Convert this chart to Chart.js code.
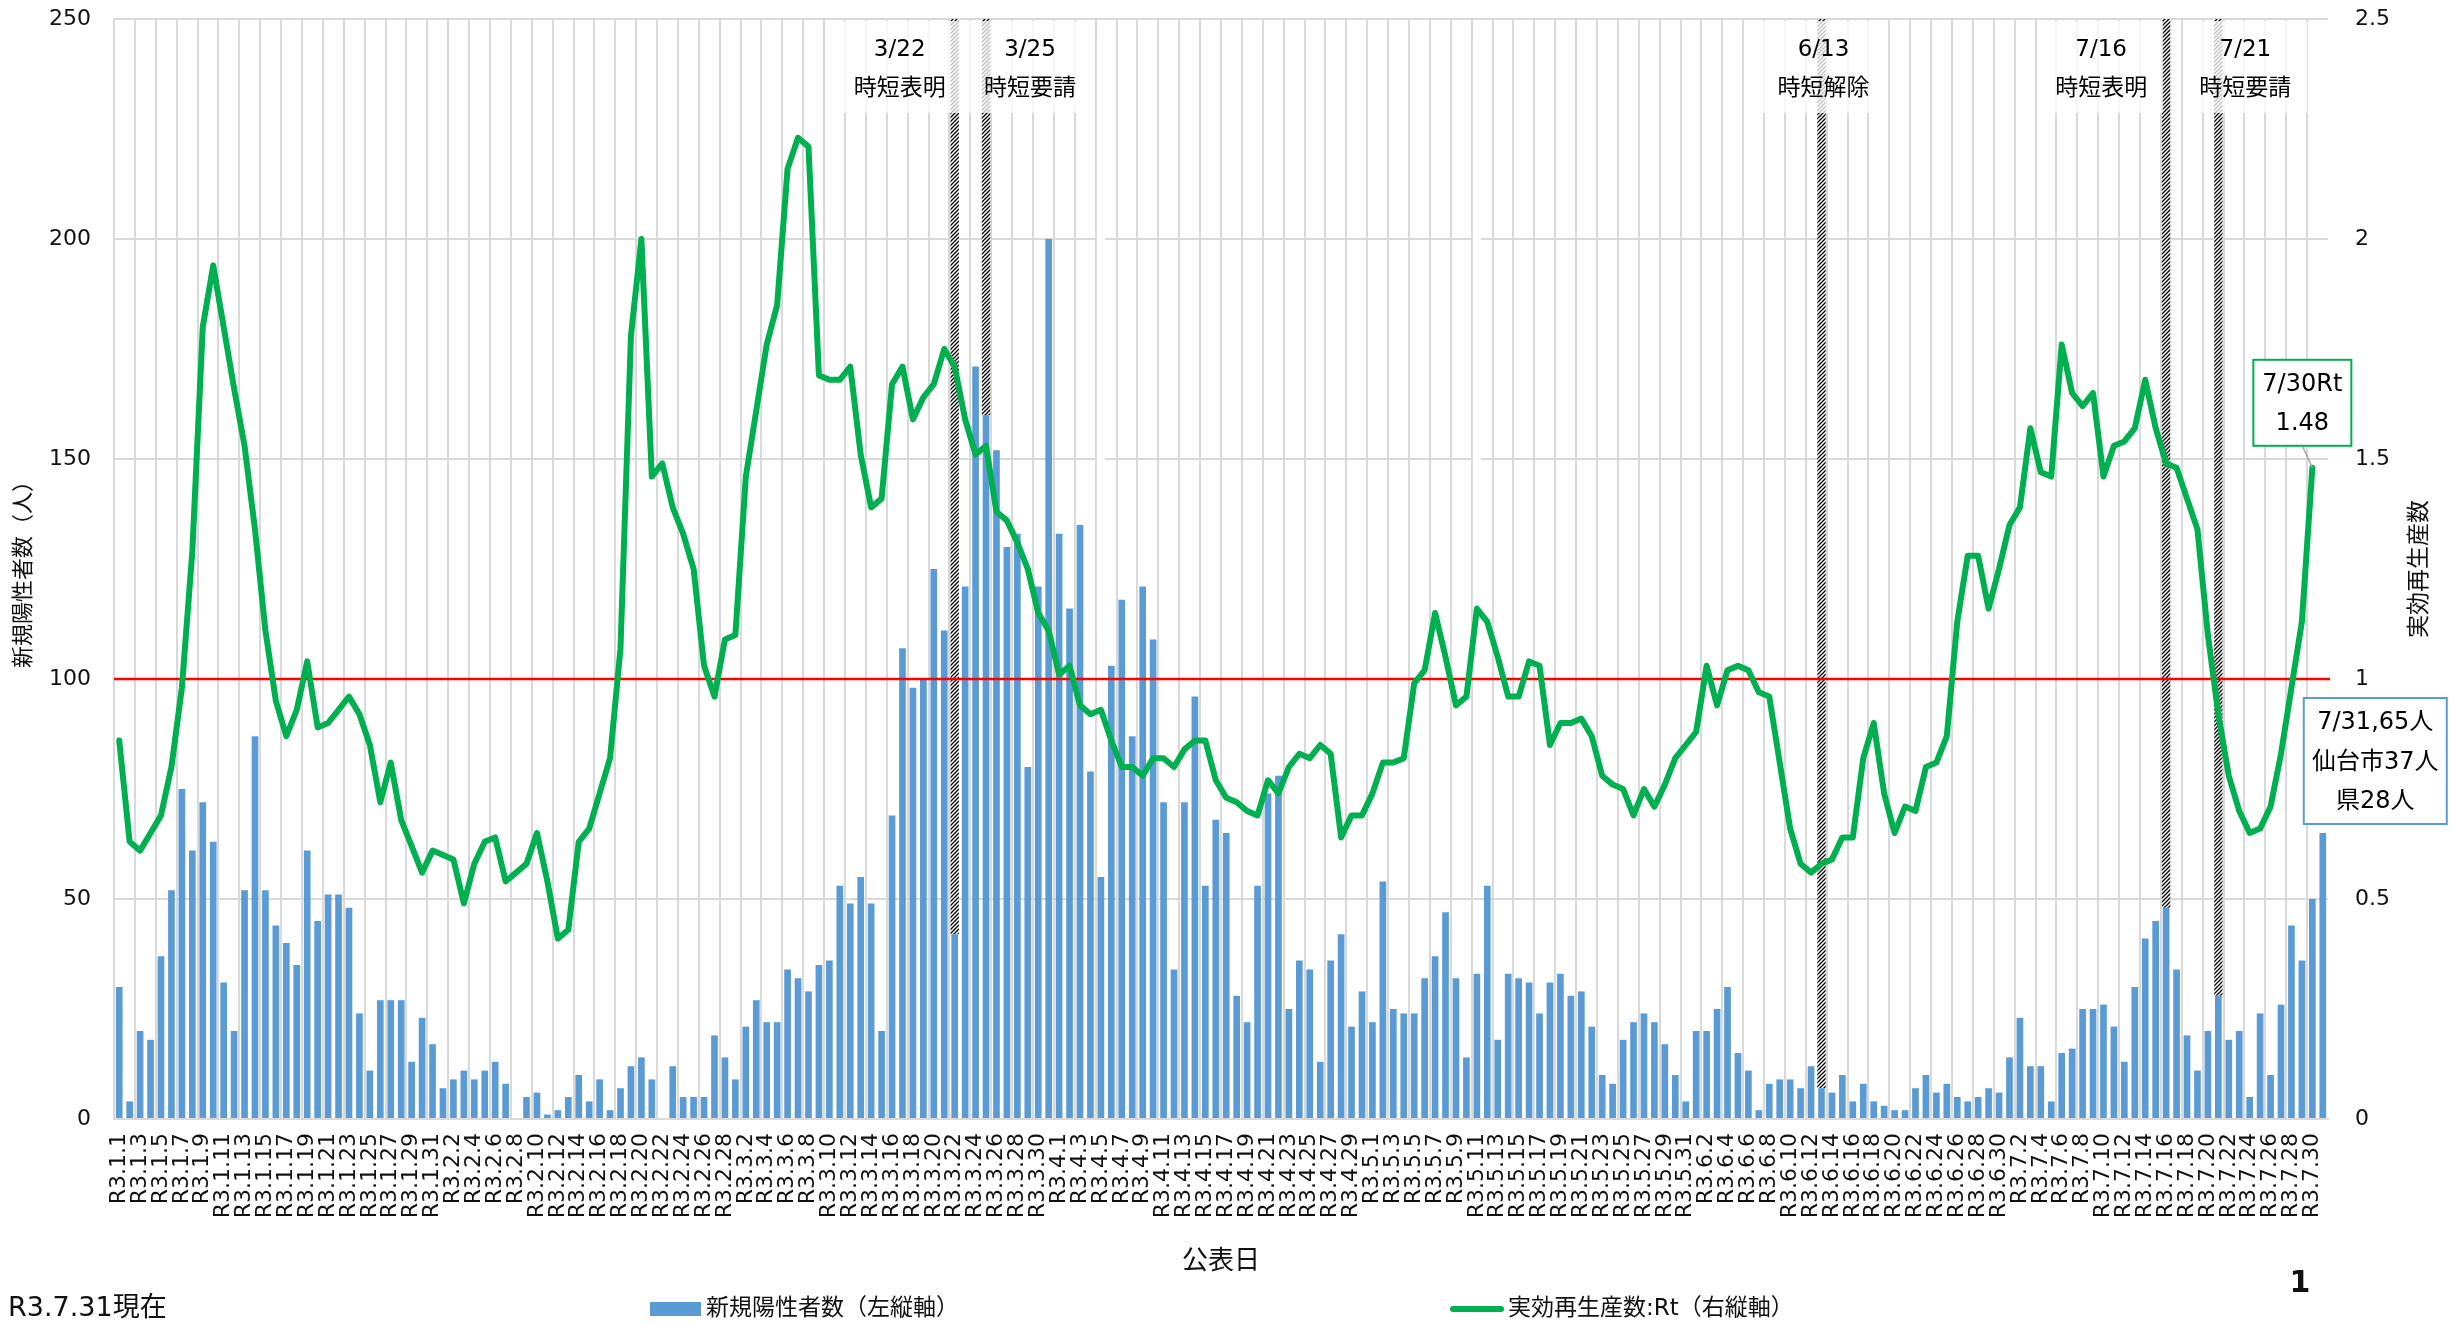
<!DOCTYPE html>
<html>
<head>
<meta charset="utf-8">
<script src="https://cdn.jsdelivr.net/npm/chart.js@4.4.0/dist/chart.umd.min.js"></script>
<style>
html, body { margin: 0; padding: 0; background: #fff; }
</style>
</head>
<body>
<canvas id="myChart" width="2458" height="1323"></canvas>
<script>
// 新規陽性者数 (per month, day 1..end)
var casesJan = [30,4,20,18,37,52,75,61,72,63,31,20,52,87,52,44,40,35,61,45,51,51,48,24,11,27,27,27,13,23,17];
var casesFeb = [7,9,11,9,11,13,8,0,5,6,1,2,5,10,4,9,2,7,12,14,9,0,12,5,5,5,19,14];
var casesMar = [9,21,27,22,22,34,32,29,35,36,53,49,55,49,20,69,107,98,100,125,111,42,121,171,160,152,130,133,80,121,200];
var casesApr = [133,116,135,79,55,103,118,87,121,109,72,34,72,96,53,68,65,28,22,53,74,78,25,36,34,13,36,42,21,29];
var casesMay = [22,54,25,24,24,32,37,47,32,14,33,53,18,33,32,31,24,31,33,28,29,21,10,8,18,22,24,22,17,10,4];
var casesJun = [20,20,25,30,15,11,2,8,9,9,7,12,7,6,10,4,8,4,3,2,2,7,10,6,8,5,4,5,7,6];
var casesJul = [14,23,12,12,4,15,16,25,25,26,21,13,30,41,45,48,34,19,11,20,28,18,20,5,24,10,26,44,36,50,65];

// 実効再生産数 Rt
var rtJan = [0.86,0.63,0.61,0.65,0.69,0.80,0.98,1.29,1.80,1.94,1.80,1.66,1.53,1.34,1.11,0.95,0.87,0.93,1.04,0.89,0.90,0.93,0.96,0.92,0.85,0.72,0.81,0.68,0.62,0.56,0.61];
var rtFeb = [0.60,0.59,0.49,0.58,0.63,0.64,0.54,0.56,0.58,0.65,0.54,0.41,0.43,0.63,0.66,0.74,0.82,1.07,1.78,2.00,1.46,1.49,1.39,1.33,1.25,1.03,0.96,1.09];
var rtMar = [1.10,1.46,1.61,1.76,1.85,2.16,2.23,2.21,1.69,1.68,1.68,1.71,1.51,1.39,1.41,1.67,1.71,1.59,1.64,1.67,1.75,1.71,1.59,1.51,1.53,1.38,1.36,1.31,1.25,1.15,1.11];
var rtApr = [1.01,1.03,0.94,0.92,0.93,0.86,0.80,0.80,0.78,0.82,0.82,0.80,0.84,0.86,0.86,0.77,0.73,0.72,0.70,0.69,0.77,0.74,0.80,0.83,0.82,0.85,0.83,0.64,0.69,0.69];
var rtMay = [0.74,0.81,0.81,0.82,0.99,1.02,1.15,1.05,0.94,0.96,1.16,1.13,1.05,0.96,0.96,1.04,1.03,0.85,0.90,0.90,0.91,0.87,0.78,0.76,0.75,0.69,0.75,0.71,0.76,0.82,0.85];
var rtJun = [0.88,1.03,0.94,1.02,1.03,1.02,0.97,0.96,0.81,0.66,0.58,0.56,0.58,0.59,0.64,0.64,0.82,0.90,0.74,0.65,0.71,0.70,0.80,0.81,0.87,1.13,1.28,1.28,1.16,1.25];
var rtJul = [1.35,1.39,1.57,1.47,1.46,1.76,1.65,1.62,1.65,1.46,1.53,1.54,1.57,1.68,1.57,1.49,1.48,1.41,1.34,1.10,0.92,0.78,0.70,0.65,0.66,0.71,0.83,0.98,1.13,1.48,null];

var monthDays = [31,28,31,30,31,30,31];

// events (時短)
var eventDates = ['R3.3.22','R3.3.25','R3.6.13','R3.7.16','R3.7.21'];
var eventTitles = ['3/22','3/25','6/13','7/16','7/21'];
var eventTexts = ['時短表明','時短要請','時短解除','時短表明','時短要請'];

var rtNoteLines = ['7/30Rt','1.48'];
var caseNoteLines = ['7/31,65人','仙台市37人','県28人'];

var yTicksMax = 250, y1TicksMax = 2.5;

// ---- build
var labels = [];
for (var m = 0; m < monthDays.length; m++) {
    for (var d = 1; d <= monthDays[m]; d++) labels.push('R3.' + (m + 1) + '.' + d);
}
var cases = [].concat(casesJan, casesFeb, casesMar, casesApr, casesMay, casesJun, casesJul);
var rt = [].concat(rtJan, rtFeb, rtMar, rtApr, rtMay, rtJun, rtJul);
var hatchData = labels.map(function(l, i) {
    return eventDates.indexOf(l) >= 0 ? yTicksMax - cases[i] : null;
});

var FONT = '"DejaVu Sans", "Noto Sans CJK JP", sans-serif';
Chart.defaults.font.family = FONT;
Chart.defaults.color = '#111';

// hatch pattern
var pc = document.createElement('canvas');
pc.width = 4; pc.height = 4;
var pg = pc.getContext('2d');
pg.fillStyle = '#fff'; pg.fillRect(0, 0, 4, 4);
pg.strokeStyle = '#000'; pg.lineWidth = 1.3;
pg.beginPath();
pg.moveTo(0, 4); pg.lineTo(4, 0);
pg.moveTo(-1, 1); pg.lineTo(1, -1);
pg.moveTo(3, 5); pg.lineTo(5, 3);
pg.stroke();

var ctx = document.getElementById('myChart').getContext('2d');
var hatch = ctx.createPattern(pc, 'repeat');

function txt(c, s, x, y, size, align, weight) {
    c.font = (weight || '') + ' ' + size + 'px ' + FONT;
    c.textAlign = align || 'center';
    c.textBaseline = 'middle';
    c.fillText(s, x, y);
}

var decor = {
    id: 'decor',
    beforeDatasetsDraw: function(chart) {
        // white gaps seen in the original sheet
        var c = chart.ctx, x = chart.scales.x, y = chart.scales.y;
        c.save();
        c.fillStyle = '#fff';
        ['R3.4.5', 'R3.5.11'].forEach(function(l) {
            var px = x.getPixelForValue(labels.indexOf(l));
            c.fillRect(px - 4, y.getPixelForValue(245), 8, y.getPixelForValue(110) - y.getPixelForValue(245));
        });
        c.restore();
    },
    afterDatasetDraw: function(chart, args) {
        if (args.index !== 1) return;
        // red Rt=1 line, below the green line
        var c = chart.ctx, a = chart.chartArea;
        var yy = chart.scales.y1.getPixelForValue(1);
        c.save();
        c.strokeStyle = '#ff0000';
        c.lineWidth = 2.5;
        c.beginPath();
        c.moveTo(a.left, yy);
        c.lineTo(a.right + 2, yy);
        c.stroke();
        c.restore();
    },
    afterDatasetsDraw: function(chart) {
        var c = chart.ctx, a = chart.chartArea, x = chart.scales.x, y = chart.scales.y, y1 = chart.scales.y1;
        c.save();
        // event label boxes
        var offs = [-55, 44, 2, -65, 27];
        eventDates.forEach(function(l, i) {
            var hx = x.getPixelForValue(labels.indexOf(l));
            var cx = hx + offs[i];
            c.fillStyle = 'rgba(255,255,255,0.75)';
            c.fillRect(cx - 62, a.top + 2, 124, 92);
            c.fillStyle = '#000';
            txt(c, eventTitles[i], cx, a.top + 31, 23);
            txt(c, eventTexts[i], cx, a.top + 70, 23);
        });

        // Rt note 7/30
        var ri = labels.indexOf('R3.7.30');
        var px = x.getPixelForValue(ri), py = y1.getPixelForValue(rt[ri]);
        var bw = 98, bh = 86, bcx = px - 10, bb = py - 22;
        c.strokeStyle = '#a6a6a6'; c.lineWidth = 1.5;
        c.beginPath(); c.moveTo(bcx, bb); c.lineTo(px, py); c.stroke();
        c.fillStyle = '#fff';
        c.fillRect(bcx - bw / 2, bb - bh, bw, bh);
        c.strokeStyle = '#00b050'; c.lineWidth = 2;
        c.strokeRect(bcx - bw / 2, bb - bh, bw, bh);
        c.fillStyle = '#000';
        txt(c, rtNoteLines[0], bcx, bb - bh + 25, 24);
        txt(c, rtNoteLines[1], bcx, bb - bh + 64, 24);

        // cases note 7/31
        var ci = labels.indexOf('R3.7.31');
        var qx = x.getPixelForValue(ci), qy = y.getPixelForValue(cases[ci]);
        var cw = 143, ch = 126, cl = qx - 19, cb = qy - 9;
        c.fillStyle = '#fff';
        c.fillRect(cl, cb - ch, cw, ch);
        c.strokeStyle = '#5b9bd5'; c.lineWidth = 2;
        c.strokeRect(cl, cb - ch, cw, ch);
        c.fillStyle = '#000';
        caseNoteLines.forEach(function(s, k) {
            txt(c, s, cl + cw / 2, cb - ch + 25 + k * 39.5, 24);
        });
        c.restore();
    },
    afterDraw: function(chart) {
        var c = chart.ctx, a = chart.chartArea;
        c.save();
        c.fillStyle = '#111';
        var midY = (a.top + a.bottom) / 2;
        // axis titles
        c.save(); c.translate(24, midY); c.rotate(-Math.PI / 2);
        txt(c, '新規陽性者数（人）', 0, 0, 22); c.restore();
        c.save(); c.translate(2420, midY); c.rotate(-Math.PI / 2);
        txt(c, '実効再生産数', 0, 0, 23); c.restore();
        txt(c, '公表日', (a.left + a.right) / 2, 1262, 26);

        // legend
        c.fillStyle = '#5b9bd5';
        c.fillRect(650, 1302, 51, 14);
        c.fillStyle = '#111';
        txt(c, '新規陽性者数（左縦軸）', 706, 1309, 23, 'left');
        c.strokeStyle = '#00b050'; c.lineWidth = 6; c.lineCap = 'round';
        c.beginPath(); c.moveTo(1453, 1309); c.lineTo(1501, 1309); c.stroke();
        txt(c, '実効再生産数:Rt（右縦軸）', 1508, 1309, 23, 'left');

        // footnotes
        txt(c, 'R3.7.31現在', 8, 1309, 27, 'left');
        txt(c, '1', 2300, 1284, 30, 'center', 'bold');
        c.restore();
    }
};

function fitY(w) {
    return function(s) {
        s.width = w;
        s.paddingTop = 0;
        s.paddingBottom = 0;
    };
}

var myChart = new Chart(ctx, {
    type: 'bar',
    data: {
        labels: labels,
        datasets: [{
            type: 'line',
            label: '実効再生産数:Rt（右縦軸）',
            data: rt,
            yAxisID: 'y1',
            borderColor: '#00b050',
            borderWidth: 6,
            pointRadius: 0,
            tension: 0,
            fill: false,
            borderJoinStyle: 'round',
            borderCapStyle: 'round'
        }, {
            label: '新規陽性者数（左縦軸）',
            data: cases,
            yAxisID: 'y',
            backgroundColor: '#5b9bd5',
            barPercentage: 0.64,
            categoryPercentage: 1
        }, {
            label: '時短',
            data: hatchData,
            yAxisID: 'y',
            backgroundColor: hatch,
            barPercentage: 0.8,
            categoryPercentage: 1
        }]
    },
    options: {
        responsive: false,
        animation: false,
        devicePixelRatio: 1,
        layout: { padding: { top: 19, left: 0, right: 0, bottom: 0 } },
        plugins: { legend: { display: false }, tooltip: { enabled: false } },
        scales: {
            x: {
                stacked: true,
                offset: true,
                grid: {
                    offset: true,
                    drawTicks: false,
                    lineWidth: 2,
                    color: function(c) { return c.index % 2 === 0 ? '#d9d9d9' : 'rgba(0,0,0,0)'; }
                },
                border: { display: true, color: '#d9d9d9', width: 2 },
                ticks: {
                    autoSkip: false,
                    minRotation: 90,
                    maxRotation: 90,
                    padding: 14,
                    color: '#111',
                    font: { size: 22 },
                    callback: function(v, i) { return i % 2 === 0 ? this.getLabelForValue(v) : ''; }
                },
                afterFit: function(s) { s.height = 204; s.paddingLeft = 0; s.paddingRight = 0; }
            },
            y: {
                position: 'left',
                stacked: true,
                min: 0,
                max: yTicksMax,
                ticks: { stepSize: 50, padding: 23, color: '#111', font: { size: 22 } },
                grid: { color: '#d9d9d9', lineWidth: 2, drawTicks: false },
                border: { display: false },
                afterFit: fitY(114)
            },
            y1: {
                position: 'right',
                min: 0,
                max: y1TicksMax,
                ticks: {
                    stepSize: 0.5, padding: 27, color: '#111', font: { size: 22 },
                    callback: function(v) { return String(Math.round(v * 10) / 10); }
                },
                grid: { display: false, drawTicks: false },
                border: { display: false },
                afterFit: fitY(130)
            }
        }
    },
    plugins: [decor]
});
</script>
</body>
</html>
